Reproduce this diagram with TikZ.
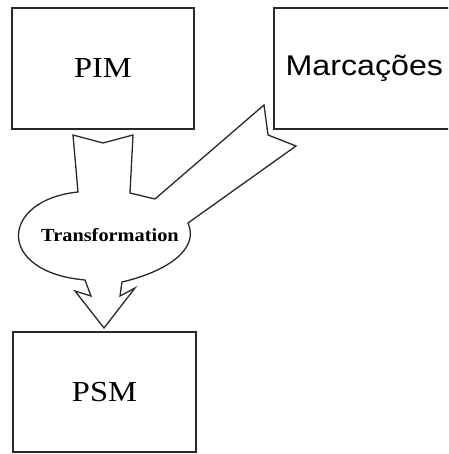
\documentclass[tikz,border=0pt]{standalone}
\usepackage{fontspec}
\setmainfont{Liberation Serif}
\newfontfamily\marcfont{Liberation Sans}
\usepackage{graphicx}
\usepackage{tikz}
\usetikzlibrary{positioning}
\definecolor{mdline}{RGB}{40,40,40}
\tikzstyle{model} = [rectangle, minimum width=182pt, minimum height=121pt, inner sep=0pt, text centered, draw=mdline, line width=1.8pt]
\tikzstyle{flow} = [draw=mdline, line width=1.3pt, line join=miter]

\begin{document}
\begin{tikzpicture}[x=1pt, y=1pt]
\path[use as bounding box, clip] (0,0) rectangle (448,454);
% Models
\node (pim) [model] at (103,385.5) {\fontsize{29}{32}\selectfont\scalebox{1.12}[1]{PIM}};
\node (marc) [model, right=78pt of pim, minimum width=190pt] {\hspace*{-9pt}\marcfont\fontsize{28.5}{32}\selectfont\scalebox{1.13}[1]{Marcações}};
\node (psm) [model, below=201pt of pim, xshift=1.5pt, minimum width=183pt, minimum height=120pt] {\fontsize{29}{32}\selectfont\scalebox{1.12}[1]{PSM}};

% Transformation arrow
\draw[flow] (73,319) -- (103,311) -- (133,319) -- (130,261) -- (155,255)
  -- (264,349) -- (268,319) -- (296,308) -- (188,231)
  .. controls (200,204) and (165,182) .. (122,172)
  -- (120,158) -- (135,166) -- (104,126) -- (75,163) -- (91,158) -- (85,174)
  .. controls (-5,182) and (0,254) .. (78,262) -- cycle;

\node (trans) at (110,218.5) {\bfseries\fontsize{18.5}{20}\selectfont\scalebox{1.1}[1]{Transformation}};
\end{tikzpicture}
\end{document}
